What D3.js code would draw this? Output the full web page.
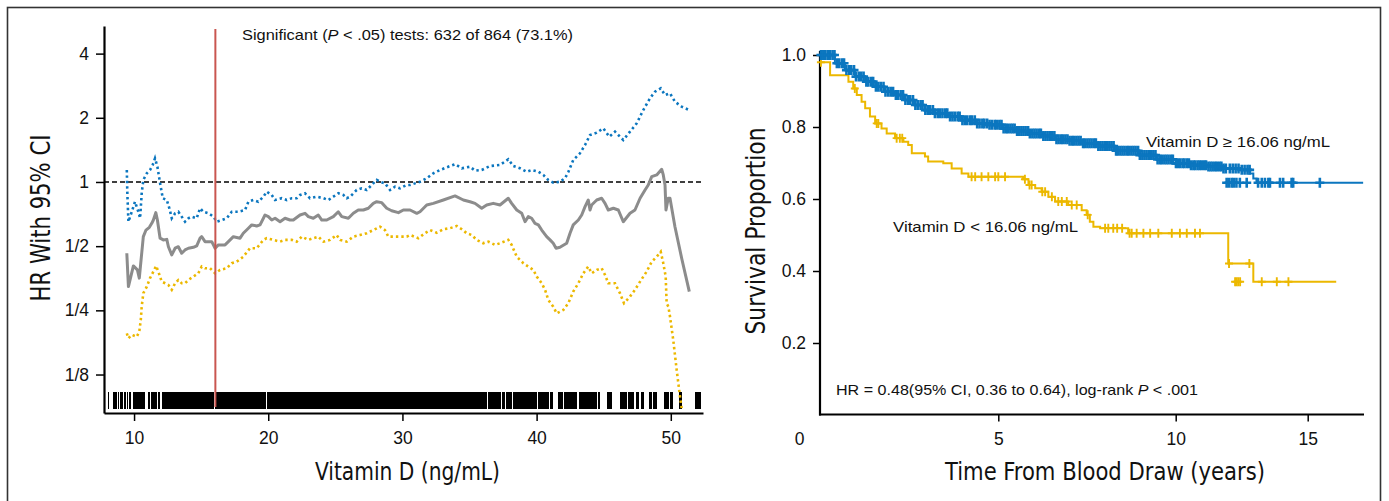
<!DOCTYPE html>
<html>
<head>
<meta charset="utf-8">
<title>Vitamin D cut-points and survival</title>
<style>
  body { margin: 0; background: #fff; }
  svg text { font-family: "Liberation Sans", Arial, sans-serif; fill: #111; }
  .title { font-family: "Liberation Sans Narrow", "DejaVu Sans Condensed", "Liberation Sans", sans-serif; }
</style>
</head>
<body>
<script src="https://d3js.org/d3.v7.min.js"></script>
<script>
// ---- left panel: HR (95% CI) at each vitamin D cut-point ----
const hrVit = [9.46,9.58,9.95,10.25,10.39,10.57,10.69,10.89,11.14,11.32,11.44,11.62,11.74,11.94,12.18,12.44,12.56,12.81,13.06,13.30,13.55,13.80,14.05,14.42,14.67,14.92,15.04,15.29,15.79,16.04,16.28,16.78,17.03,17.40,17.90,18.14,18.52,18.77,19.14,19.39,19.76,20.01,20.26,20.51,20.88,21.25,21.62,21.87,22.37,22.74,22.99,23.36,23.73,23.99,24.36,24.85,25.22,25.48,25.97,26.34,26.71,27.09,27.46,27.83,28.08,28.46,28.83,29.20,29.70,30.07,30.57,31.07,31.31,31.81,32.30,33.05,33.92,34.54,35.04,35.41,35.91,36.28,36.77,37.27,37.89,38.14,38.52,38.89,39.14,39.38,39.63,39.88,40.13,40.38,40.75,41.00,41.24,41.45,41.74,42.24,42.49,42.73,43.11,43.36,43.61,43.85,43.98,44.10,44.48,44.85,45.10,45.34,45.72,46.09,46.46,46.96,47.33,47.71,48.08,48.32,48.58,48.95,49.32,49.44,49.57,49.64,49.81,49.94,50.31,50.81,51.38];
const hrEst = [0.463,0.323,0.404,0.387,0.354,0.463,0.554,0.595,0.613,0.640,0.663,0.718,0.663,0.545,0.535,0.538,0.497,0.455,0.489,0.497,0.463,0.480,0.489,0.494,0.502,0.545,0.554,0.525,0.525,0.489,0.507,0.507,0.525,0.554,0.545,0.575,0.607,0.629,0.622,0.629,0.700,0.688,0.663,0.676,0.651,0.676,0.663,0.663,0.700,0.713,0.688,0.676,0.700,0.663,0.663,0.688,0.725,0.688,0.676,0.713,0.739,0.739,0.753,0.794,0.808,0.800,0.753,0.733,0.718,0.739,0.739,0.713,0.725,0.780,0.794,0.823,0.860,0.823,0.808,0.794,0.753,0.780,0.794,0.780,0.839,0.794,0.739,0.713,0.651,0.688,0.676,0.640,0.629,0.595,0.554,0.535,0.516,0.489,0.494,0.516,0.575,0.629,0.663,0.700,0.766,0.823,0.739,0.780,0.823,0.839,0.794,0.739,0.753,0.739,0.651,0.713,0.739,0.839,0.917,0.968,1.059,1.079,1.147,1.079,0.968,0.739,0.839,0.839,0.617,0.439,0.306];

const upVit = [9.46,9.50,9.58,9.83,10.07,10.32,10.45,10.57,10.69,10.95,11.19,11.39,11.56,11.74,11.94,12.14,12.44,12.63,12.81,13.06,13.30,13.55,13.80,14.05,14.30,14.67,14.92,15.16,15.54,15.91,16.16,16.54,16.91,17.28,17.77,18.27,18.52,18.89,19.26,19.64,19.89,20.26,20.51,21.01,21.38,21.75,22.12,22.37,22.74,23.11,23.61,24.11,24.48,24.85,25.22,25.60,25.85,26.10,26.59,26.97,27.34,27.71,28.08,28.33,28.70,29.08,29.45,29.82,30.32,30.57,31.31,31.81,32.30,32.80,33.42,33.92,34.42,35.04,35.41,35.91,36.53,37.27,37.89,38.26,38.76,39.26,39.63,40.13,40.50,40.87,41.24,41.74,42.12,42.37,42.73,43.23,43.61,43.98,44.48,44.97,45.42,45.84,46.46,46.96,47.46,47.95,48.45,48.82,49.25,49.57,49.94,50.31,50.81,51.38];
const upHR = [1.138,0.885,0.651,0.725,0.808,0.725,0.676,0.885,1.022,1.098,1.138,1.202,1.291,1.179,0.986,0.839,0.823,0.753,0.676,0.713,0.725,0.688,0.651,0.676,0.688,0.676,0.753,0.725,0.713,0.688,0.651,0.663,0.676,0.725,0.725,0.739,0.808,0.823,0.808,0.853,0.901,0.869,0.823,0.839,0.823,0.839,0.839,0.869,0.885,0.839,0.853,0.839,0.823,0.853,0.885,0.869,0.839,0.853,0.917,0.934,0.917,0.968,1.022,1.003,0.986,0.917,0.951,0.934,0.968,0.968,1.003,1.041,1.098,1.138,1.179,1.211,1.159,1.179,1.130,1.138,1.188,1.202,1.278,1.188,1.159,1.117,1.138,1.117,1.079,1.022,0.993,1.003,1.041,1.117,1.268,1.363,1.491,1.661,1.703,1.785,1.631,1.722,1.574,1.722,1.884,2.175,2.469,2.652,2.751,2.558,2.606,2.380,2.255,2.175];

const loVit = [9.46,9.58,9.83,10.20,10.39,10.50,10.57,10.69,10.95,11.19,11.44,11.64,11.81,12.06,12.31,12.56,12.81,13.06,13.30,13.55,13.80,14.05,14.42,14.79,15.04,15.29,15.66,16.04,16.41,16.91,17.28,17.65,18.14,18.64,19.14,19.64,19.89,20.38,20.88,21.25,21.75,22.12,22.50,22.99,23.36,23.73,24.11,24.61,25.10,25.35,25.85,26.34,26.84,27.34,27.83,28.33,28.70,28.95,29.32,29.82,30.32,30.57,31.19,31.68,32.06,32.56,33.05,33.55,34.05,34.42,34.79,35.16,35.54,36.03,36.40,36.90,37.27,37.89,38.14,38.52,39.01,39.38,39.76,40.01,40.38,40.63,40.87,41.24,41.50,41.99,42.36,42.73,43.11,43.48,43.85,44.10,44.48,44.85,45.10,45.34,45.84,46.21,46.51,46.96,47.33,47.71,48.20,48.58,48.95,49.25,49.44,49.62,49.69,49.82,49.94,50.19,50.44,50.69,50.81];
const loHR = [0.195,0.185,0.192,0.188,0.199,0.225,0.260,0.301,0.323,0.354,0.380,0.404,0.380,0.341,0.335,0.329,0.312,0.335,0.347,0.335,0.335,0.347,0.360,0.373,0.401,0.394,0.394,0.373,0.387,0.394,0.416,0.423,0.446,0.489,0.489,0.535,0.545,0.535,0.525,0.535,0.535,0.525,0.554,0.535,0.545,0.554,0.525,0.535,0.564,0.535,0.525,0.554,0.564,0.575,0.595,0.617,0.595,0.554,0.554,0.554,0.554,0.564,0.545,0.575,0.595,0.578,0.600,0.607,0.622,0.600,0.575,0.564,0.535,0.516,0.525,0.507,0.516,0.535,0.507,0.446,0.416,0.401,0.387,0.360,0.335,0.312,0.280,0.260,0.242,0.251,0.270,0.306,0.335,0.373,0.401,0.373,0.387,0.394,0.366,0.335,0.335,0.301,0.270,0.290,0.312,0.341,0.380,0.423,0.446,0.471,0.416,0.360,0.270,0.260,0.234,0.180,0.131,0.098,0.087];

// rug of observed vitamin D values, as [from, to] runs (a single value has from == to)
const rugRuns = [[8.09,8.09],[8.46,8.46],[8.58,8.58],[8.71,8.71],[8.83,8.83],[8.96,8.96],[9.10,9.16],[9.33,9.33],[9.53,9.53],[9.70,9.70],[9.95,10.20],[10.30,10.80],[11.10,11.10],[11.30,11.70],[11.80,11.90],[12.10,12.40],[12.50,15.95],[16.05,17.45],[17.55,19.82],[19.92,32.06],[32.18,33.35],[33.42,33.55],[33.67,33.80],[33.92,35.29],[35.41,36.28],[36.45,37.27],[37.45,37.60],[37.77,37.89],[38.02,38.14],[38.27,38.39],[38.51,38.64],[38.76,39.00],[39.14,39.51],[39.63,40.00],[40.13,40.25],[40.38,40.50],[40.63,40.87],[41.07,41.20],[41.62,41.69],[41.82,41.89],[42.12,42.99],[43.18,43.48],[43.61,43.86],[43.98,44.23],[44.35,44.48],[44.60,44.67],[45.30,45.59],[46.29,46.46],[46.59,46.71],[46.84,46.96],[47.08,47.21],[47.46,47.58],[47.83,47.95],[48.45,48.57],[48.70,48.95],[49.57,49.82],[49.99,50.14],[50.69,50.81],[51.88,52.18]];

const cutPoint = 16.06;
const hrTicks = [1/8, 1/4, 1/2, 1, 2, 4];
const vitTicks = [10, 20, 30, 40, 50];

// ---- right panel: Kaplan-Meier by cut-point ----
const highTime = [0.53,0.90,1.15,1.40,1.66,1.91,2.16,2.41,2.66,2.91,3.16,3.41,3.75,4.08,4.42,4.75,5.10,5.47,5.85,6.22,6.60,6.97,7.35,7.82,8.29,8.99,9.46,9.93,10.54,11.18,11.81,12.44,12.81,12.94,13.06,17.10];
const highSurv = [1.000,0.977,0.958,0.940,0.926,0.912,0.898,0.889,0.875,0.861,0.847,0.838,0.829,0.819,0.810,0.806,0.796,0.789,0.782,0.775,0.766,0.762,0.755,0.747,0.734,0.722,0.710,0.699,0.694,0.690,0.685,0.681,0.671,0.657,0.645,0.645];
const highCensor = [0.55,0.61,0.66,0.72,0.77,0.84,0.89,0.95,1.01,1.08,1.13,1.19,1.26,1.31,1.38,1.43,1.50,1.56,1.62,1.69,1.74,1.81,1.86,1.93,1.99,2.05,2.12,2.17,2.24,2.30,2.36,2.43,2.48,2.55,2.61,2.67,2.74,2.79,2.86,2.92,2.98,3.05,3.10,3.17,3.23,3.29,3.36,3.41,3.48,3.54,3.60,3.67,3.72,3.79,3.85,3.91,3.98,4.03,4.10,4.16,4.22,4.29,4.34,4.41,4.47,4.53,4.60,4.65,4.72,4.78,4.84,4.91,4.96,5.03,5.09,5.15,5.22,5.27,5.34,5.40,5.46,5.53,5.58,5.65,5.71,5.77,5.84,5.89,5.96,6.02,6.08,6.15,6.20,6.27,6.33,6.39,6.46,6.51,6.58,6.64,6.70,6.77,6.82,6.89,6.95,7.01,7.08,7.13,7.20,7.26,7.32,7.39,7.44,7.51,7.57,7.63,7.70,7.75,7.82,7.88,7.94,8.01,8.06,8.13,8.19,8.25,8.32,8.37,8.44,8.50,8.56,8.63,8.68,8.75,8.81,8.87,8.94,8.99,9.06,9.12,9.18,9.25,9.30,9.37,9.43,9.49,9.56,9.61,9.68,9.74,9.80,9.87,9.92,10.01,10.09,10.17,10.26,10.33,10.42,10.50,10.58,10.67,10.74,10.83,10.91,10.99,11.08,11.15,11.24,11.32,11.40,11.49,11.56,11.65,11.73,11.81,11.90,12.05,12.16,12.27,12.38,12.50,12.61,12.72,12.80,13.12,13.26,13.38,13.51,13.57,13.95,14.07,14.39,14.45,15.46];
const highLoose = [[11.93,0.645],[12.02,0.645],[12.12,0.645],[12.20,0.645],[12.30,0.645],[12.43,0.645],[12.69,0.645]];

const lowTime = [0.53,0.78,1.24,1.36,1.45,1.57,1.66,1.78,1.91,2.07,2.20,2.41,2.62,2.74,2.83,3.16,3.24,3.62,3.83,4.08,4.25,5.70,5.85,6.04,6.22,6.41,6.60,6.97,7.35,7.49,7.58,7.68,7.87,8.66,11.99,12.94,16.08];
const lowSurv = [0.980,0.944,0.926,0.907,0.889,0.870,0.852,0.829,0.810,0.796,0.782,0.769,0.759,0.750,0.727,0.718,0.704,0.699,0.685,0.671,0.662,0.655,0.639,0.630,0.620,0.606,0.593,0.583,0.569,0.556,0.537,0.523,0.519,0.505,0.421,0.370,0.370];
const lowCensor = [0.55,1.40,1.95,1.99,2.45,2.53,2.59,4.33,4.42,4.58,4.75,4.92,5.00,5.19,5.75,5.88,5.94,6.24,6.32,6.51,6.69,6.79,6.93,7.07,7.21,7.52,8.01,8.10,8.24,8.35,8.49,8.70,8.76,8.90,9.09,9.28,9.51,9.89,10.16,10.42,10.73,10.92,12.02,12.79,13.26,13.83,14.27];
const lowLoose = [[12.25,0.370],[12.31,0.370],[12.37,0.370],[12.44,0.370]];

const timeTicks = [0, 5, 10, 15];
const survTicks = [0.2, 0.4, 0.6, 0.8, 1.0];

const blue = "#0b76bf", gold = "#ecb800", grey = "#8c8c8c", red = "#c95650";

const W = 1389, H = 501;
const svg = d3.select("body").append("svg")
    .attr("width", W)
    .attr("height", H);

// outer frame (bottom edge runs past the picture)
svg.append("rect")
    .attr("x", 7.5).attr("y", 7.5)
    .attr("width", 1373).attr("height", 530)
    .attr("fill", "none").attr("stroke", "#333").attr("stroke-width", 1.6);

// ================= left panel =================
const xL = d3.scaleLinear().domain([7.76, 52.4]).range([104, 703]);
const yL = d3.scaleLog().base(2).domain([0.0825, 5.39]).range([413, 26]);

const fracFmt = d => d >= 1 ? String(d) : "1/" + Math.round(1 / d);

const gyL = svg.append("g")
    .attr("transform", "translate(104,0)")
    .call(d3.axisLeft(yL).tickValues(hrTicks).tickFormat(fracFmt).tickSize(8).tickSizeOuter(0).tickPadding(7));
gyL.select(".domain").attr("stroke-width", 2.2);
gyL.selectAll(".tick line").attr("stroke-width", 1.5);
gyL.selectAll("text").attr("font-size", 17.5).attr("font-family", null);

const gxL = svg.append("g")
    .attr("transform", "translate(0,413)")
    .call(d3.axisBottom(xL).tickValues(vitTicks).tickSize(8).tickSizeOuter(0).tickPadding(11));
gxL.select(".domain").attr("stroke-width", 2.2);
gxL.selectAll(".tick line").attr("stroke-width", 1.5);
gxL.selectAll("text").attr("font-size", 17.5).attr("font-family", null);

// rug
svg.append("g")
    .attr("shape-rendering", "crispEdges")
    .selectAll("rect")
    .data(rugRuns)
    .enter().append("rect")
    .attr("x", d => xL(d[0]) - 0.6)
    .attr("width", d => Math.max(1.3, xL(d[1]) - xL(d[0]) + 1.2))
    .attr("y", 392).attr("height", 17)
    .attr("fill", "#000");

// reference line HR = 1
svg.append("line")
    .attr("x1", 104).attr("x2", 703)
    .attr("y1", yL(1)).attr("y2", yL(1))
    .attr("stroke", "#000").attr("stroke-width", 1.3)
    .attr("stroke-dasharray", "5,3");

const lineL = (xs, ys) => d3.line()
    .x((d, i) => xL(xs[i]))
    .y((d, i) => yL(ys[i]))(xs);

svg.append("path")
    .attr("d", lineL(upVit, upHR))
    .attr("fill", "none").attr("stroke", blue)
    .attr("stroke-width", 2.6).attr("stroke-dasharray", "2.4,3");

svg.append("path")
    .attr("d", lineL(loVit, loHR))
    .attr("fill", "none").attr("stroke", gold)
    .attr("stroke-width", 2.6).attr("stroke-dasharray", "2.4,3");

svg.append("path")
    .attr("d", lineL(hrVit, hrEst))
    .attr("fill", "none").attr("stroke", grey)
    .attr("stroke-width", 3).attr("stroke-linejoin", "round");

// chosen cut-point
svg.append("line")
    .attr("x1", xL(cutPoint)).attr("x2", xL(cutPoint))
    .attr("y1", 29).attr("y2", 407)
    .attr("stroke", red).attr("stroke-width", 2);

const note = svg.append("text")
    .attr("x", 242).attr("y", 40)
    .attr("font-size", 14.5);
note.append("tspan").text("Significant (");
note.append("tspan").attr("font-style", "italic").text("P");
note.append("tspan").text(" < .05) tests: 632 of 864 (73.1%)");
note.attr("textLength", 331).attr("lengthAdjust", "spacingAndGlyphs");

svg.append("text")
    .attr("class", "title")
    .attr("x", 407.5).attr("y", 480)
    .attr("text-anchor", "middle")
    .attr("font-size", 25)
    .attr("textLength", 185).attr("lengthAdjust", "spacingAndGlyphs")
    .text("Vitamin D (ng/mL)");

svg.append("text")
    .attr("class", "title")
    .attr("transform", "translate(50,218) rotate(-90)")
    .attr("text-anchor", "middle")
    .attr("font-size", 27)
    .attr("textLength", 167).attr("lengthAdjust", "spacingAndGlyphs")
    .text("HR With 95% CI");

// ================= right panel =================
const xR = d3.scaleLinear().domain(timeTicks).range([799, 998.3, 1175.7, 1307.7]);
const yR = d3.scaleLinear().domain([0, 1]).range([415, 55]);

const gyR = svg.append("g")
    .attr("transform", "translate(820,0)")
    .call(d3.axisLeft(yR).tickValues(survTicks).tickFormat(d3.format(".1f")).tickSize(7).tickPadding(7));
gyR.select(".domain").remove();
gyR.selectAll(".tick line").attr("stroke-width", 1.5);
gyR.selectAll("text").attr("font-size", 17.5).attr("font-family", null);
svg.append("line")
    .attr("x1", 820).attr("x2", 820).attr("y1", 51).attr("y2", 415.5)
    .attr("stroke", "#000").attr("stroke-width", 2.2);

const gxR = svg.append("g")
    .attr("transform", "translate(0,414.5)")
    .call(d3.axisBottom(xR).tickValues(timeTicks).tickSize(7).tickPadding(11));
gxR.select(".domain").remove();
gxR.selectAll(".tick line").attr("stroke-width", 1.5).filter(d => d === 0).remove();
gxR.selectAll("text").attr("font-size", 17.5).attr("font-family", null);
svg.append("line")
    .attr("x1", 819).attr("x2", 1364).attr("y1", 414.5).attr("y2", 414.5)
    .attr("stroke", "#000").attr("stroke-width", 2.2);

const stepLine = (ts, ss) => d3.line()
    .curve(d3.curveStepAfter)
    .x((d, i) => xR(ts[i]))
    .y((d, i) => yR(ss[i]))(ts);

const survAt = (ts, ss, t) => ss[Math.max(0, d3.bisectRight(ts, t) - 1)];

// step curve plus "+" censor marks; mark = [half width, half height, stroke]
function drawKM(ts, ss, censor, loose, colour, mark) {
    const g = svg.append("g");
    g.append("path")
        .attr("d", stepLine(ts, ss))
        .attr("fill", "none").attr("stroke", colour).attr("stroke-width", 2);
    const marks = censor.map(t => [t, survAt(ts, ss, t)]).concat(loose);
    g.selectAll(".cm").data(marks).enter().append("path")
        .attr("class", "cm")
        .attr("d", d => {
            const cx = xR(d[0]), cy = yR(d[1]);
            return "M" + (cx - mark[0]) + "," + cy + "H" + (cx + mark[0]) +
                   "M" + cx + "," + (cy - mark[1]) + "V" + (cy + mark[1]);
        })
        .attr("fill", "none").attr("stroke", colour).attr("stroke-width", mark[2]);
}

drawKM(lowTime, lowSurv, lowCensor, lowLoose, gold, [4, 4.5, 1.9]);
drawKM(highTime, highSurv, highCensor, highLoose, blue, [4.5, 5, 2.6]);

svg.append("text")
    .attr("x", 1146).attr("y", 147)
    .attr("font-size", 14.5)
    .attr("textLength", 184).attr("lengthAdjust", "spacingAndGlyphs")
    .text("Vitamin D \u2265 16.06 ng/mL");

svg.append("text")
    .attr("x", 893).attr("y", 232)
    .attr("font-size", 14.5)
    .attr("textLength", 185).attr("lengthAdjust", "spacingAndGlyphs")
    .text("Vitamin D < 16.06 ng/mL");

const hrNote = svg.append("text")
    .attr("x", 836).attr("y", 395)
    .attr("font-size", 14.5);
hrNote.append("tspan").text("HR = 0.48(95% CI, 0.36 to 0.64), log-rank ");
hrNote.append("tspan").attr("font-style", "italic").text("P");
hrNote.append("tspan").text(" < .001");
hrNote.attr("textLength", 362).attr("lengthAdjust", "spacingAndGlyphs");

svg.append("text")
    .attr("class", "title")
    .attr("x", 1105).attr("y", 480)
    .attr("text-anchor", "middle")
    .attr("font-size", 25)
    .attr("textLength", 320).attr("lengthAdjust", "spacingAndGlyphs")
    .text("Time From Blood Draw (years)");

svg.append("text")
    .attr("class", "title")
    .attr("transform", "translate(765,231) rotate(-90)")
    .attr("text-anchor", "middle")
    .attr("font-size", 26)
    .attr("textLength", 207).attr("lengthAdjust", "spacingAndGlyphs")
    .text("Survival Proportion");
</script>
</body>
</html>
